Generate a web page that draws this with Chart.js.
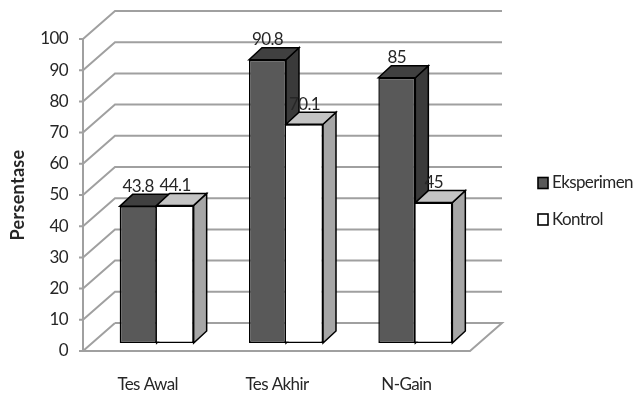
<!DOCTYPE html>
<html>
<head>
<meta charset="utf-8">
<style>html,body{margin:0;padding:0;background:#fff}canvas{display:block}</style>
<script src="https://cdn.jsdelivr.net/npm/chart.js@4/dist/chart.umd.min.js"></script>
</head>
<body>
<canvas id="chart" width="634" height="393"></canvas>
<script>
const categories = ['Tes Awal', 'Tes Akhir', 'N-Gain'];
const eksperimen = [43.8, 90.8, 85];
const kontrol = [44.1, 70.1, 45];
const axisTitle = 'Persentase';

const FONT = 'Lato, "Liberation Sans", sans-serif';
const TEXT = '#262626';
const TIGHT = '-0.6px';
const GRID = '#a0a0a0';

// Pseudo-3D box: offsets from the bar plane to the axis front edge and to the back wall.
const FRONT = { dx: -9, dy: 8 };
const BACK = { dx: 23, dy: -20 };
const BAR_DEPTH = { dx: 13, dy: -12 };

const faces = [
  { side: '#3a3a3a', top: '#404040' },
  { side: '#a6a6a6', top: '#c4c4c4' }
];

function poly(ctx, pts, fill, stroke, width) {
  ctx.beginPath();
  pts.forEach((p, i) => i ? ctx.lineTo(p[0], p[1]) : ctx.moveTo(p[0], p[1]));
  ctx.closePath();
  if (fill) { ctx.fillStyle = fill; ctx.fill(); }
  if (stroke) { ctx.strokeStyle = stroke; ctx.lineWidth = width; ctx.stroke(); }
}

const box3d = {
  id: 'box3d',
  beforeDraw(chart) {
    chart.ctx.letterSpacing = TIGHT;
  },
  beforeDatasetsDraw(chart) {
    const { ctx, chartArea: a, scales: { y } } = chart;
    ctx.save();
    ctx.lineJoin = 'miter';
    // walls and floor
    const base = y.getPixelForValue(0);
    const fl = a.left + FRONT.dx, fr = a.right + FRONT.dx - 1;
    const bl = a.left + BACK.dx, br = a.right + BACK.dx - 1;
    ctx.lineWidth = 2;
    ctx.strokeStyle = GRID;
    y.ticks.forEach(t => {
      const py = y.getPixelForValue(t.value);
      ctx.beginPath();
      ctx.moveTo(fl - 4, py + FRONT.dy);
      ctx.lineTo(fl, py + FRONT.dy);
      ctx.lineTo(bl, py + BACK.dy);
      if (t.value !== 0) ctx.lineTo(br, py + BACK.dy);
      ctx.stroke();
    });
    ctx.beginPath();
    ctx.moveTo(fl, y.getPixelForValue(y.max) + FRONT.dy);
    ctx.lineTo(fl, base + FRONT.dy);
    ctx.lineTo(fr, base + FRONT.dy);
    ctx.lineTo(br, base + BACK.dy);
    ctx.lineTo(bl, base + BACK.dy);
    ctx.stroke();
    // depth faces of each bar, first series behind the second
    [0, 1].forEach(ds => {
      chart.getDatasetMeta(ds).data.forEach(bar => {
        const l = bar.x - bar.width / 2, r = bar.x + bar.width / 2;
        const t = bar.y, b = bar.base;
        const d = BAR_DEPTH;
        poly(ctx, [[r, t], [r + d.dx, t + d.dy], [r + d.dx, b + d.dy], [r, b]], faces[ds].side, '#000', 1.5);
        poly(ctx, [[l, t], [l + d.dx, t + d.dy], [r + d.dx, t + d.dy], [r, t]], faces[ds].top, '#000', 1.5);
      });
    });
    ctx.restore();
  },
  afterDraw(chart) {
    const { ctx } = chart;
    ctx.save();
    // value labels above the bars
    ctx.font = '17px ' + FONT;
    ctx.fillStyle = TEXT;
    ctx.textAlign = 'center';
    ctx.textBaseline = 'middle';
    chart.data.datasets.forEach((set, ds) => {
      chart.getDatasetMeta(ds).data.forEach((bar, i) => {
        ctx.fillText(String(set.data[i]), bar.x, bar.y - 20);
      });
    });
    // legend
    const rows = [183, 219.5];
    ctx.textAlign = 'left';
    chart.data.datasets.forEach((set, ds) => {
      ctx.fillStyle = set.backgroundColor;
      ctx.strokeStyle = '#000';
      ctx.lineWidth = 1.6;
      ctx.fillRect(538, rows[ds] - 5.5, 10, 11);
      ctx.strokeRect(538, rows[ds] - 5.5, 10, 11);
      ctx.fillStyle = TEXT;
      ctx.fillText(set.label, 552, rows[ds]);
    });
    // rotated axis title
    ctx.translate(18, 195);
    ctx.rotate(-Math.PI / 2);
    ctx.textAlign = 'center';
    ctx.letterSpacing = '0.3px';
    ctx.font = 'bold 18px ' + FONT;
    ctx.fillStyle = TEXT;
    ctx.fillText(axisTitle, 0, 0);
    ctx.restore();
  }
};

new Chart(document.getElementById('chart'), {
  type: 'bar',
  data: {
    labels: categories,
    datasets: [
      { label: 'Eksperimen', data: eksperimen, backgroundColor: '#595959', borderColor: '#000', borderWidth: 1.5, borderSkipped: false },
      { label: 'Kontrol', data: kontrol, backgroundColor: '#ffffff', borderColor: '#000', borderWidth: 1.5, borderSkipped: 'left' }
    ]
  },
  plugins: [box3d],
  options: {
    responsive: false,
    animation: false,
    layout: { padding: { top: 31, right: 154, left: 0, bottom: 0 } },
    datasets: { bar: { categoryPercentage: 74 / 129.33, barPercentage: 1 } },
    plugins: { legend: { display: false }, tooltip: { enabled: false }, title: { display: false } },
    scales: {
      x: {
        grid: { display: false, drawTicks: false },
        border: { display: false },
        ticks: { padding: 31, labelOffset: -9, maxRotation: 0, color: TEXT, font: { family: FONT, size: 17 } },
        afterFit(scale) { scale.height = 50; }
      },
      y: {
        min: 0,
        max: 100,
        grid: { display: false, drawTicks: false },
        border: { display: false },
        ticks: { stepSize: 10, padding: 24, labelOffset: 8, color: TEXT, font: { family: FONT, size: 17 } },
        afterFit(scale) {
          scale.width = 92;
          // the plot box is placed by hand, so tick labels must not push it inward
          scale.paddingTop = 0;
          scale.paddingBottom = 0;
        }
      }
    }
  }
});
</script>
</body>
</html>
